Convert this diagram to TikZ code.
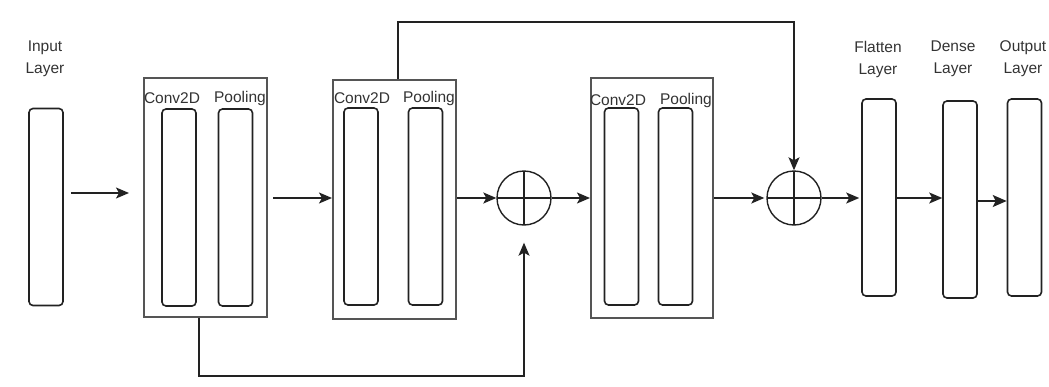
\documentclass[tikz,border=0pt]{standalone}
\usepackage{fontspec}
\setmainfont{Liberation Sans}
\usetikzlibrary{arrows.meta,calc}
\definecolor{ink}{HTML}{222222}
\definecolor{frame}{HTML}{555555}
\definecolor{txt}{HTML}{333333}
\begin{document}
\begin{tikzpicture}[x=1pt,y=-1pt,
  layer/.style={draw=ink,line width=1.6pt,rounded corners=4pt,minimum width=34pt,minimum height=197pt,inner sep=0pt},
  block/.style={draw=frame,line width=2pt,inner sep=0pt,minimum width=123pt,minimum height=239pt},
  sumnode/.style={draw=ink,line width=1.4pt,circle,minimum size=54pt,inner sep=0pt,
    path picture={\draw[ink,line width=1.4pt]
      (path picture bounding box.north) -- (path picture bounding box.south)
      (path picture bounding box.west) -- (path picture bounding box.east);}},
  lbl/.style={text=txt,font=\fontsize{15.5}{22}\selectfont,inner sep=0pt,align=center},
  arr/.style={draw=ink,line width=1.5pt,-{Stealth[length=13pt,width=11pt,inset=3pt]}},
]
\useasboundingbox (0,0) rectangle (1049,386);

% input layer
\node[layer] (inp) at (46,207) {};
\node[lbl] (inpl) at (45,59) {Input\\Layer};

% first convolution block
\node[block] (b1) at (205.5,197.5) {};
\node[layer] (conv1) at (179,207.5) {};
\node[layer] (pool1) at (235.5,207.5) {};
\node[lbl] (conv1l) at (172,98) {Conv2D};
\node[lbl] (pool1l) at (240,98) {Pooling};

% second convolution block
\node[block] (b2) at (394.5,199.5) {};
\node[layer] (conv2) at (361,206.5) {};
\node[layer] (pool2) at (425.5,206.5) {};
\node[lbl] (conv2l) at (362,98) {Conv2D};
\node[lbl] (pool2l) at (429,98) {Pooling};

% third convolution block
\node[block,minimum width=122pt,minimum height=240pt] (b3) at (652,198) {};
\node[layer] (conv3) at (621.5,206.5) {};
\node[layer] (pool3) at (675.5,206.5) {};
\node[lbl] (conv3l) at (618,100) {Conv2D};
\node[lbl] (pool3l) at (686,100) {Pooling};

% residual additions
\node[sumnode] (c1) at (524,198) {};
\node[sumnode] (c2) at (794,198) {};

% dense part
\node[layer] (flat) at (879,197.5) {};
\node[lbl] (flatl) at (878,59) {Flatten\\Layer};
\node[layer] (dense) at (960,199.5) {};
\node[lbl] (densel) at (953,59) {Dense\\Layer};
\node[layer] (out) at (1024.5,197.5) {};
\node[lbl] (outl) at (1023,59) {Output\\Layer};

% main flow
\draw[arr] ([shift={(7,-14)}]inp.east) coordinate (a0) -- ($(b1.west |- a0)+(-14,0)$);
\draw[arr] ($(b1.east |- c1.west)+(5,0)$) -- (b2.west |- c1.west);
\draw[arr] (b2.east |- c1.west) -- (c1.west);
\draw[arr] (c1.east) -- (b3.west |- c1.east);
\draw[arr] (b3.east |- c2.west) -- ([xshift=-2pt]c2.west);
\draw[arr] (c2.east) -- ([xshift=-2pt]flat.west |- c2.east);
\draw[arr] (flat.east |- c2.east) -- (dense.west |- c2.east);
\draw[draw=ink,line width=1.7pt,-{Stealth[length=14pt,width=12pt,inset=3pt]}]
  ([yshift=-1.5pt]dense.east) -- ([yshift=-1.5pt]out.west |- dense.east);

% skip connections
\draw[arr] ([xshift=-6.5pt]b1.south) -- ++(0,58) -| ([yshift=-17pt]c1.south);
\draw[arr] ([xshift=3.5pt]b2.north) -- ++(0,-57) -| (c2.north);
\end{tikzpicture}
\end{document}
